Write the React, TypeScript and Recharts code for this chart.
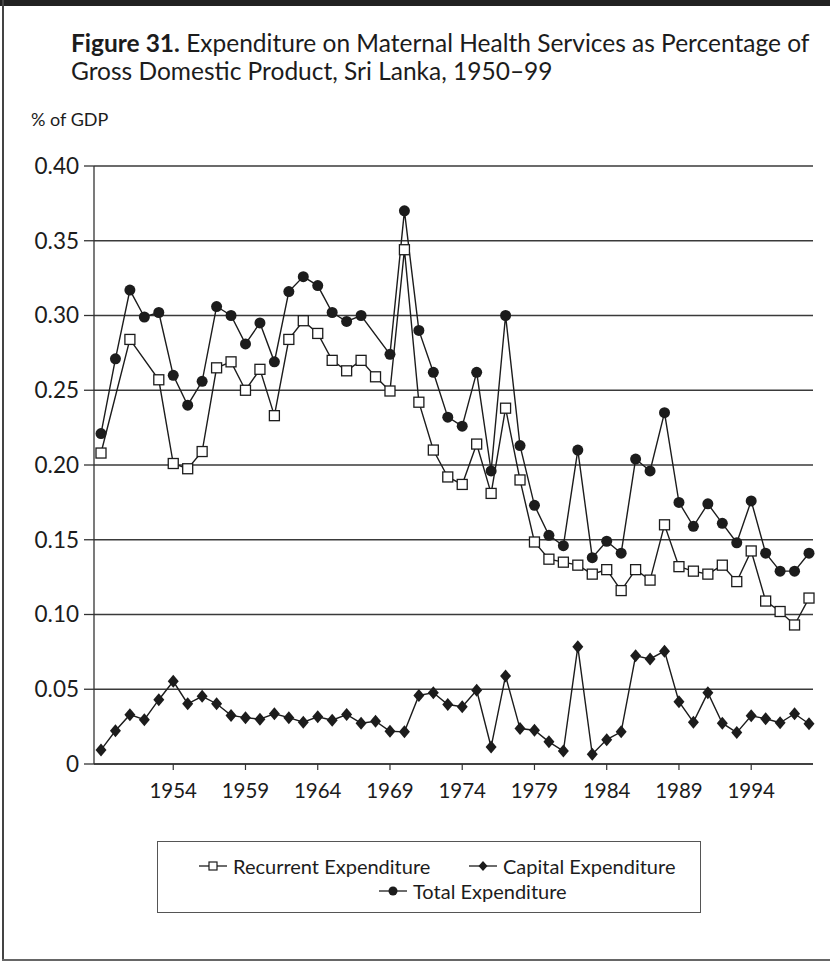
import React from 'react';
import {
  LineChart,
  Line,
  XAxis,
  YAxis,
  CartesianGrid,
} from 'recharts';

// category labels as printed under the axis (first point sits 5 steps before "1954")
const years = [
  1949, 1950, 1951, 1952, 1953, 1954, 1955, 1956, 1957, 1958,
  1959, 1960, 1961, 1962, 1963, 1964, 1965, 1966, 1967, 1968,
  1969, 1970, 1971, 1972, 1973, 1974, 1975, 1976, 1977, 1978,
  1979, 1980, 1981, 1982, 1983, 1984, 1985, 1986, 1987, 1988,
  1989, 1990, 1991, 1992, 1993, 1994, 1995, 1996, 1997, 1998,
];

const xTicks = [1954, 1959, 1964, 1969, 1974, 1979, 1984, 1989, 1994];
const yTicks = [0, 0.05, 0.1, 0.15, 0.2, 0.25, 0.3, 0.35, 0.4];

const recurrent = [
  0.208, null, 0.284, null, 0.257, 0.201, 0.1975, 0.209, 0.265, 0.269,
  0.25, 0.264, 0.233, 0.284, 0.2965, 0.288, 0.27, 0.263, 0.27, 0.259,
  0.2495, 0.344, 0.242, 0.21, 0.192, 0.187, 0.214, 0.181, 0.238, 0.19,
  0.1485, 0.137, 0.135, 0.133, 0.127, 0.13, 0.116, 0.13, 0.123, 0.16,
  0.132, 0.129, 0.127, 0.133, 0.122, 0.1425, 0.109, 0.102, 0.093, 0.111,
];

const capital = [
  0.0094, 0.0222, 0.033, 0.0296, 0.043, 0.0553, 0.0403, 0.0453, 0.0403, 0.0325,
  0.031, 0.03, 0.0336, 0.031, 0.028, 0.0316, 0.0293, 0.0331, 0.0273, 0.0286,
  0.0219, 0.0215, 0.0459, 0.0477, 0.0398, 0.0383, 0.0493, 0.0114, 0.0589, 0.0237,
  0.0226, 0.0148, 0.0087, 0.0784, 0.0065, 0.0163, 0.0215, 0.0724, 0.0703, 0.0755,
  0.0417, 0.028, 0.0477, 0.0273, 0.021, 0.0323, 0.0303, 0.0276, 0.0336, 0.0269,
];

const total = [
  0.221, 0.271, 0.317, 0.299, 0.302, 0.26, 0.24, 0.256, 0.306, 0.3,
  0.281, 0.295, 0.269, 0.316, 0.326, 0.32, 0.302, 0.296, 0.3, null,
  0.274, 0.37, 0.29, 0.262, 0.232, 0.226, 0.262, 0.196, 0.3, 0.213,
  0.173, 0.153, 0.146, 0.21, 0.138, 0.149, 0.141, 0.204, 0.196, 0.235,
  0.175, 0.159, 0.174, 0.161, 0.148, 0.176, 0.141, 0.129, 0.129, 0.141,
];

const data = years.map((year, i) => ({
  year,
  recurrent: recurrent[i],
  capital: capital[i],
  total: total[i],
}));

const INK = '#1c1c1c';
const FONT = 'Lato, "Noto Sans", sans-serif';

function SquareDot(props: any) {
  const { cx, cy, index } = props;
  if (cx == null || cy == null) return <g key={`sq-${index}`} />;
  return (
    <rect
      key={`sq-${index}`}
      x={cx - 5}
      y={cy - 5}
      width={10}
      height={10}
      fill="#fff"
      stroke={INK}
      strokeWidth={1.3}
    />
  );
}

function DiamondDot(props: any) {
  const { cx, cy, index } = props;
  if (cx == null || cy == null) return <g key={`dm-${index}`} />;
  return (
    <path
      key={`dm-${index}`}
      d={`M${cx},${cy - 6.5} L${cx + 5.5},${cy} L${cx},${cy + 6.5} L${cx - 5.5},${cy} Z`}
      fill={INK}
    />
  );
}

function CircleDot(props: any) {
  const { cx, cy, index } = props;
  if (cx == null || cy == null) return <g key={`ci-${index}`} />;
  return <circle key={`ci-${index}`} cx={cx} cy={cy} r={5.5} fill={INK} />;
}

function LegendMark({ kind }: { kind: 'square' | 'diamond' | 'circle' }) {
  return (
    <svg width={28} height={14} style={{ display: 'block' }}>
      <line x1={0} y1={7} x2={28} y2={7} stroke={INK} strokeWidth={1.3} />
      {kind === 'square' && (
        <rect x={10} y={3} width={8} height={8} fill="#fff" stroke={INK} strokeWidth={1.2} />
      )}
      {kind === 'diamond' && <path d="M14,2 L18.5,7 L14,12 L9.5,7 Z" fill={INK} />}
      {kind === 'circle' && <circle cx={14} cy={7} r={4.5} fill={INK} />}
    </svg>
  );
}

function LegendItem({
  kind,
  label,
  left,
  top,
}: {
  kind: 'square' | 'diamond' | 'circle';
  label: string;
  left: number;
  top: number;
}) {
  return (
    <div style={{ position: 'absolute', left, top, display: 'flex', alignItems: 'center', gap: 6 }}>
      <LegendMark kind={kind} />
      <span style={{ fontSize: 20, lineHeight: '24px', color: INK, whiteSpace: 'nowrap' }}>{label}</span>
    </div>
  );
}

export default function App() {
  return (
    <div
      style={{
        position: 'absolute',
        left: 0,
        top: 0,
        width: 830,
        height: 962,
        background: '#fff',
        fontFamily: FONT,
        overflow: 'hidden',
      }}
    >
      {/* frame */}
      <div style={{ position: 'absolute', left: 0, top: 0, width: 830, height: 6, background: '#222' }} />
      <div style={{ position: 'absolute', left: 2, top: 0, width: 1.5, height: 961, background: '#444' }} />
      <div style={{ position: 'absolute', left: 2, top: 959, width: 828, height: 1.5, background: '#666' }} />

      <div
        style={{
          position: 'absolute',
          left: 71,
          top: 29,
          width: 760,
          fontSize: 24.5,
          lineHeight: '28px',
          color: INK,
          whiteSpace: 'nowrap',
        }}
      >
        <b>Figure 31.</b> Expenditure on Maternal Health Services as Percentage of
        <br />
        Gross Domestic Product, Sri Lanka, 1950–99
      </div>
      <div style={{ position: 'absolute', left: 31, top: 108, fontSize: 18, color: INK }}>% of GDP</div>

      <LineChart
        width={830}
        height={962}
        data={data}
        margin={{ top: 166, right: 17, bottom: 168, left: 0 }}
        style={{ position: 'absolute', left: 0, top: 0 }}
      >
        <CartesianGrid vertical={false} stroke="#3a3a3a" strokeWidth={1.3} />
        <XAxis
          dataKey="year"
          type="category"
          ticks={xTicks}
          interval={0}
          padding={{ left: 7, right: 4 }}
          height={30}
          tickSize={6}
          tickMargin={13}
          axisLine={{ stroke: '#333', strokeWidth: 1.3 }}
          tickLine={{ stroke: '#333', strokeWidth: 1.2 }}
          tick={{ fill: INK, fontSize: 20.5, fontFamily: FONT }}
        />
        <YAxis
          width={94}
          domain={[0, 0.4]}
          ticks={yTicks}
          interval={0}
          tickSize={10}
          tickMargin={5}
          axisLine={{ stroke: '#333', strokeWidth: 1.3 }}
          tickLine={{ stroke: '#333', strokeWidth: 1.3 }}
          tick={{ fill: INK, fontSize: 22.5, fontFamily: FONT }}
          tickFormatter={(v: number) => (v === 0 ? '0' : v.toFixed(2))}
        />
        <Line
          dataKey="total"
          name="Total Expenditure"
          type="linear"
          stroke={INK}
          strokeWidth={1.4}
          connectNulls
          dot={CircleDot}
          activeDot={false}
          isAnimationActive={false}
        />
        <Line
          dataKey="capital"
          name="Capital Expenditure"
          type="linear"
          stroke={INK}
          strokeWidth={1.4}
          connectNulls
          dot={DiamondDot}
          activeDot={false}
          isAnimationActive={false}
        />
        <Line
          dataKey="recurrent"
          name="Recurrent Expenditure"
          type="linear"
          stroke={INK}
          strokeWidth={1.4}
          connectNulls
          dot={SquareDot}
          activeDot={false}
          isAnimationActive={false}
        />
      </LineChart>

      {/* legend box */}
      <div
        style={{
          position: 'absolute',
          left: 157,
          top: 841,
          width: 544,
          height: 72,
          border: '1.5px solid #555',
          boxSizing: 'border-box',
        }}
      />
      <LegendItem kind="square" label="Recurrent Expenditure" left={199} top={854} />
      <LegendItem kind="diamond" label="Capital Expenditure" left={469} top={854} />
      <LegendItem kind="circle" label="Total Expenditure" left={379} top={879} />
    </div>
  );
}
